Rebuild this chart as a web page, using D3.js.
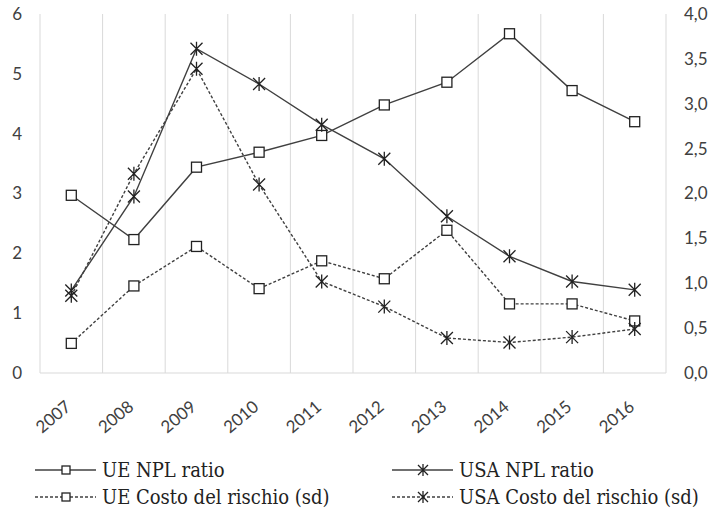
<!DOCTYPE html>
<html>
<head>
<meta charset="utf-8">
<script src="https://cdn.jsdelivr.net/npm/d3@7"></script>
<style>
  body { margin: 0; background: #fff; }
  .tick-label { font-family: Lato, "Open Sans", sans-serif; font-size: 17px; fill: #404040; }
  .legend-label { font-family: "DejaVu Serif Condensed", "Liberation Serif", serif; font-size: 20px; fill: #222; }
</style>
</head>
<body>
<div id="chart"></div>
<script>
const years = ["2007", "2008", "2009", "2010", "2011", "2012", "2013", "2014", "2015", "2016"]
// left axis (%)
const ueNplRatio = [2.97, 2.23, 3.44, 3.69, 3.97, 4.48, 4.86, 5.67, 4.72, 4.2]
const usaNplRatio = [1.38, 2.95, 5.42, 4.83, 4.15, 3.58, 2.62, 1.95, 1.53, 1.39]
// right axis (sd)
const ueCostoRischio = [0.33, 0.97, 1.41, 0.94, 1.25, 1.05, 1.59, 0.77, 0.77, 0.58]
const usaCostoRischio = [0.86, 2.22, 3.39, 2.1, 1.02, 0.74, 0.39, 0.34, 0.4, 0.49]
const leftTicks = [0, 1, 2, 3, 4, 5, 6]
const rightTicks = [0, 0.5, 1, 1.5, 2, 2.5, 3, 3.5, 4]

const WIDTH = 715
const HEIGHT = 510
const PLOT = {left: 40, right: 666, top: 14, bottom: 373}
const INK = "#404040"

/*********************************************
// Scales
*********************************************/
const x = d3.scaleBand().domain(years).range([PLOT.left, PLOT.right]).padding(0)
const yLeft = d3.scaleLinear().domain([0, 6]).range([PLOT.bottom, PLOT.top])
const yRight = d3.scaleLinear().domain([0, 4]).range([PLOT.bottom, PLOT.top])
const cx = (d) => x(d) + x.bandwidth() / 2

const series = [
  {name: "UE NPL ratio", values: ueNplRatio, scale: yLeft, marker: "square", dash: null},
  {name: "USA NPL ratio", values: usaNplRatio, scale: yLeft, marker: "star", dash: null},
  {name: "UE Costo del rischio (sd)", values: ueCostoRischio, scale: yRight, marker: "square", dash: "3,2"},
  {name: "USA Costo del rischio (sd)", values: usaCostoRischio, scale: yRight, marker: "star", dash: "3,2"}
]

const svg = d3.select("#chart").append("svg")
  .attr("width", WIDTH)
  .attr("height", HEIGHT)

/*********************************************
// Grid and axes
*********************************************/
const gridVals = years.map((d) => x(d)).concat([PLOT.right])
svg.append("g").selectAll("line")
  .data(gridVals).enter()
  .append("line")
  .attr("x1", (d) => d).attr("x2", (d) => d)
  .attr("y1", PLOT.top).attr("y2", PLOT.bottom)
  .attr("stroke", "#d9d9d9")
  .attr("stroke-width", 1)

svg.append("line")
  .attr("x1", PLOT.left).attr("x2", PLOT.right)
  .attr("y1", PLOT.bottom).attr("y2", PLOT.bottom)
  .attr("stroke", "#d9d9d9")
  .attr("stroke-width", 1.2)

svg.append("g").selectAll("text")
  .data(leftTicks).enter()
  .append("text")
  .classed("tick-label", true)
  .attr("x", 22)
  .attr("y", (d) => yLeft(d))
  .attr("dy", "0.35em")
  .attr("text-anchor", "end")
  .text((d) => d)

svg.append("g").selectAll("text")
  .data(rightTicks).enter()
  .append("text")
  .classed("tick-label", true)
  .attr("x", 684)
  .attr("y", (d) => yRight(d))
  .attr("dy", "0.35em")
  .text((d) => d.toFixed(1).replace(".", ","))

svg.append("g").selectAll("text")
  .data(years).enter()
  .append("text")
  .classed("tick-label", true)
  .attr("text-anchor", "end")
  .attr("transform", (d) => `translate(${cx(d) - 3},${PLOT.bottom + 31}) rotate(-40)`)
  .attr("dy", "0.35em")
  .text((d) => d)

/*********************************************
// Markers
*********************************************/
function drawMarker(g, kind, px, py, size) {
  const r = size / 2
  if (kind === "square") {
    g.append("rect")
      .attr("x", px - r).attr("y", py - r)
      .attr("width", size).attr("height", size)
      .attr("fill", "#fff")
      .attr("stroke", "#222")
      .attr("stroke-width", 1.3)
  } else {
    const s = r + 1
    const path = `M${px - s},${py - s}L${px + s},${py + s}M${px - s},${py + s}L${px + s},${py - s}M${px},${py - s - 1}L${px},${py + s + 1}`
    g.append("path")
      .attr("d", path)
      .attr("stroke", "#222")
      .attr("stroke-width", 1.3)
      .attr("fill", "none")
  }
}

/*********************************************
// Lines
*********************************************/
series.forEach((s) => {
  const g = svg.append("g")
  const line = d3.line()
    .x((_, i) => cx(years[i]))
    .y((d) => s.scale(d))
  g.append("path")
    .datum(s.values)
    .attr("d", line)
    .attr("fill", "none")
    .attr("stroke", INK)
    .attr("stroke-width", 1.4)
    .attr("stroke-dasharray", s.dash)
  s.values.forEach((v, i) => drawMarker(g, s.marker, cx(years[i]), s.scale(v), 10))
})

/*********************************************
// Legend
*********************************************/
const legendPos = [[35, 470], [392, 470], [35, 497], [392, 497]]
legendPos.forEach(([lx, ly], k) => {
  const s = series[k]
  const g = svg.append("g")
  g.append("line")
    .attr("x1", lx).attr("x2", lx + 61)
    .attr("y1", ly).attr("y2", ly)
    .attr("stroke", INK)
    .attr("stroke-width", 1.3)
    .attr("stroke-dasharray", s.dash)
  drawMarker(g, s.marker, lx + 31, ly, 8)
  g.append("text")
    .classed("legend-label", true)
    .attr("x", lx + 67)
    .attr("y", ly)
    .attr("dy", "0.35em")
    .text(s.name)
})
</script>
</body>
</html>
